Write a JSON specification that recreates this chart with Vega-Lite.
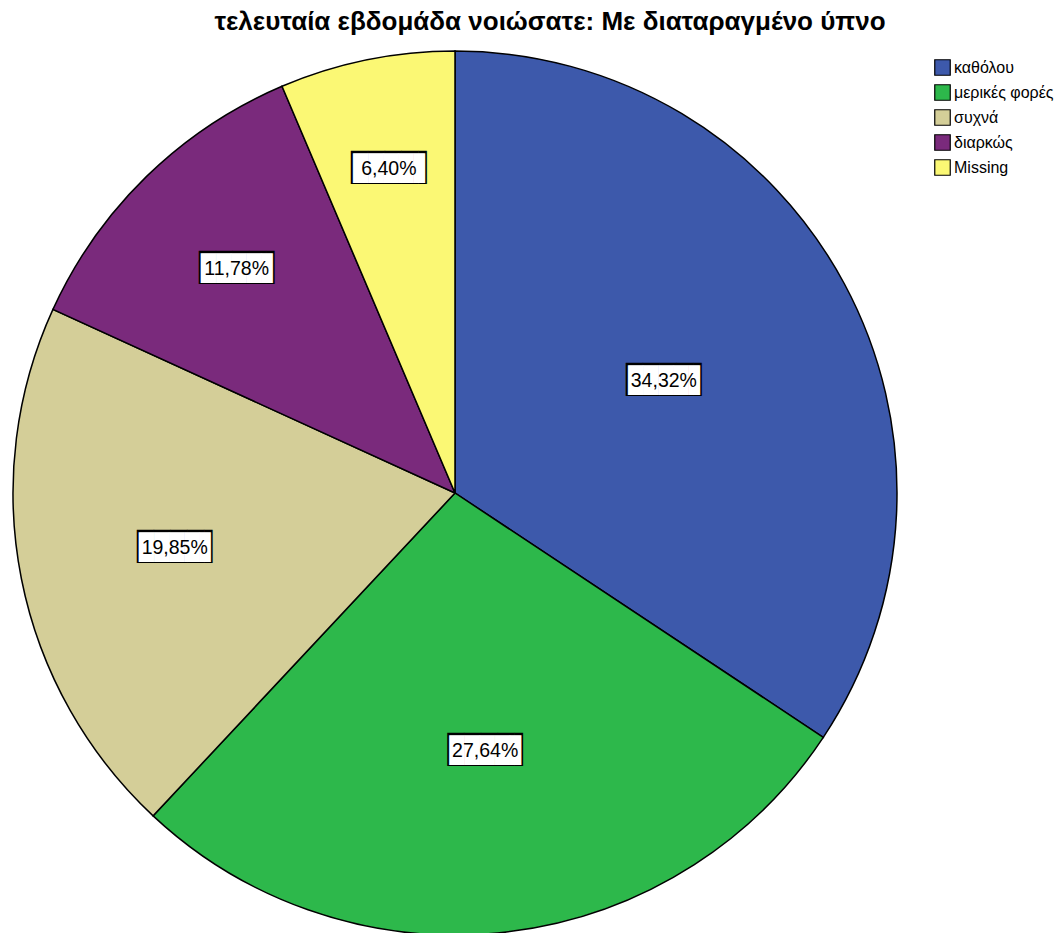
{
  "$schema": "https://vega.github.io/schema/vega-lite/v6.json",
  "width": 884,
  "height": 880,
  "autosize": {"type": "none"},
  "padding": {"left": 13, "top": 53, "right": 164, "bottom": 0},
  "background": "white",
  "title": {
    "text": "τελευταία εβδομάδα νοιώσατε: Με διαταραγμένο ύπνο",
    "font": "Liberation Sans",
    "fontSize": 26,
    "fontWeight": "bold",
    "color": "black",
    "anchor": "middle",
    "dx": 95,
    "offset": 13
  },
  "data": {
    "values": [
      {"code": 1, "category": "καθόλου", "pct": 34.32, "label": "34,32%"},
      {"code": 2, "category": "μερικές φορές", "pct": 27.64, "label": "27,64%"},
      {"code": 3, "category": "συχνά", "pct": 19.85, "label": "19,85%"},
      {"code": 4, "category": "διαρκώς", "pct": 11.78, "label": "11,78%"},
      {"code": 5, "category": "Missing", "pct": 6.40, "label": "6,40%"}
    ]
  },
  "encoding": {
    "theta": {"field": "pct", "type": "quantitative", "stack": true},
    "order": {"field": "code", "type": "ordinal"},
    "detail": {"field": "category", "type": "nominal"}
  },
  "layer": [
    {
      "mark": {"type": "arc", "outerRadius": 442, "stroke": "black", "strokeWidth": 1.5},
      "encoding": {
        "color": {
          "field": "category",
          "type": "nominal",
          "scale": {
            "domain": ["καθόλου", "μερικές φορές", "συχνά", "διαρκώς", "Missing"],
            "range": ["#3D59AB", "#2DB84B", "#D4CE98", "#7A2A7C", "#FBF874"]
          },
          "legend": {
            "orient": "none",
            "legendX": 921,
            "legendY": 6,
            "title": null,
            "symbolType": "square",
            "symbolSize": 240,
            "symbolStrokeColor": "black",
            "symbolStrokeWidth": 1.2,
            "labelFont": "Liberation Sans",
            "labelFontSize": 16,
            "labelColor": "black",
            "rowPadding": 4,
            "labelOffset": 3
          }
        }
      }
    },
    {
      "mark": {"type": "text", "text": "████▌", "font": "DejaVu Sans Mono", "fontSize": 27.9, "color": "black", "dx": 4.2, "align": "center", "baseline": "middle"},
      "encoding": {"radius": {"field": "pct", "type": "quantitative", "scale": {"type": "linear", "zero": false, "domain": [6.4, 34.32], "range": [331, 237]}}}
    },
    {
      "mark": {"type": "text", "text": "████▊", "font": "DejaVu Sans Mono", "fontSize": 25.1, "color": "white", "dx": 1.9, "align": "center", "baseline": "middle"},
      "encoding": {"radius": {"field": "pct", "type": "quantitative"}}
    },
    {
      "mark": {"type": "text", "font": "Liberation Sans", "fontSize": 19.5, "color": "black", "align": "center", "baseline": "middle"},
      "encoding": {
        "radius": {"field": "pct", "type": "quantitative"},
        "text": {"field": "label", "type": "nominal"}
      }
    }
  ],
  "config": {"view": {"stroke": null}}
}
